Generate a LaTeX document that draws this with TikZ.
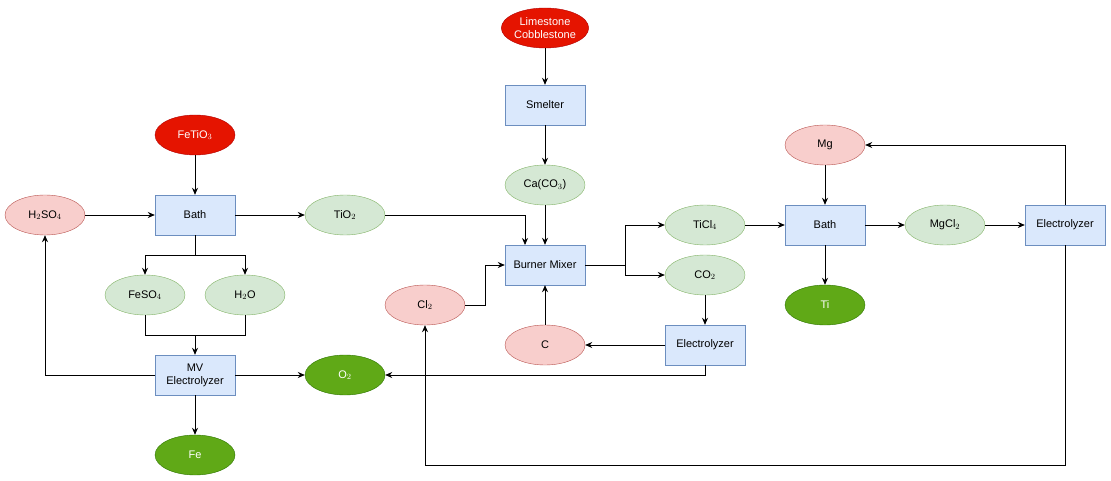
\documentclass[tikz,border=0pt]{standalone}
\usepackage{fontspec}
\setmainfont{Liberation Sans}
\usetikzlibrary{shapes.geometric,arrows.meta}
\definecolor{bf}{HTML}{DAE8FC}\definecolor{bs}{HTML}{6C8EBF}
\definecolor{gf}{HTML}{D5E8D4}\definecolor{gs}{HTML}{82B366}
\definecolor{pf}{HTML}{F8CECC}\definecolor{ps}{HTML}{B85450}
\definecolor{rf}{HTML}{E51400}\definecolor{rs}{HTML}{B20000}
\definecolor{df}{HTML}{60A917}\definecolor{ds}{HTML}{2D7600}
\begin{document}
\begin{tikzpicture}[x=1pt,y=-1pt,font=\fontsize{11}{13}\selectfont,
 box/.style={draw=bs,fill=bf,minimum width=80pt,minimum height=40pt,align=center,inner sep=1pt},
 el/.style={ellipse,minimum width=80pt,minimum height=40pt,align=center,inner sep=0pt},
 g/.style={el,draw=gs,fill=gf},p/.style={el,draw=ps,fill=pf},
 r/.style={el,draw=rs,fill=rf,text=white},d/.style={el,draw=ds,fill=df,text=white},
 a/.style={-{Stealth[length=7pt,width=6pt]},line width=0.8pt}]
\useasboundingbox (0,0) rectangle (1111,481);
\node[r] (lime) at (545,28) {Limestone\\Cobblestone};
\node[box] (sm) at (545,105) {Smelter};
\node[g] (ca) at (545,185) {Ca(CO$_3$)};
\node[box] (bm) at (545,265) {Burner Mixer};
\node[p] (c) at (545,345) {C};
\node[box] (em) at (705,345) {Electrolyzer};
\node[g] (co2) at (705,275) {CO$_2$};
\node[g] (ticl) at (705,225) {TiCl$_4$};
\node[box] (bathr) at (825,225) {Bath};
\node[p] (mg) at (825,145) {Mg};
\node[d] (ti) at (825,305) {Ti};
\node[g] (mgcl) at (945,225) {MgCl$_2$};
\node[box] (er) at (1065,225) {Electrolyzer};
\node[p] (cl2) at (425,305) {Cl$_2$};
\node[g] (tio2) at (345,215) {TiO$_2$};
\node[r] (fetio) at (195,135) {FeTiO$_3$};
\node[box] (bathl) at (195,215) {Bath};
\node[p] (h2so4) at (45,215) {H$_2$SO$_4$};
\node[g] (feso) at (145,295) {FeSO$_4$};
\node[g] (h2o) at (245,295) {H$_2$O};
\node[box] (mv) at (195,375) {MV\\Electrolyzer};
\node[d] (o2) at (345,375) {O$_2$};
\node[d] (fe) at (195,455) {Fe};
\coordinate (bmt) at (525,245);
\draw[a] (lime)--(sm); \draw[a] (sm)--(ca); \draw[a] (ca)--(bm);
\draw[a] (tio2.east) -| (bmt);
\draw[a] (cl2.east) -- (485,305) |- (bm.west);
\draw[a] (c)--(bm);
\draw[a] (bm.east) -- (625,265) |- (ticl.west);
\draw[a] (625,265) |- (co2.west);
\draw[a] (co2)--(em);
\draw[a] (em)--(c);
\draw[a] (em.south) |- (o2.east);
\draw[a] (ticl)--(bathr); \draw[a] (mg)--(bathr); \draw[a] (bathr)--(ti);
\draw[a] (bathr)--(mgcl); \draw[a] (mgcl)--(er);
\draw[a] (er.north) |- (mg.east);
\draw[a] (er.south) -- (1065,465) -| (cl2.south);
\draw[a] (fetio)--(bathl); \draw[a] (h2so4)--(bathl); \draw[a] (bathl)--(tio2);
\draw (bathl.south) -- (195,255);
\draw[a] (195,255) -| (feso.north);
\draw[a] (195,255) -| (h2o.north);
\draw (feso.south) |- (195,335); \draw (h2o.south) |- (195,335);
\draw[a] (195,335) -- (mv.north);
\draw[a] (mv.west) -| (h2so4.south);
\draw[a] (mv)--(o2); \draw[a] (mv)--(fe);
\end{tikzpicture}
\end{document}
